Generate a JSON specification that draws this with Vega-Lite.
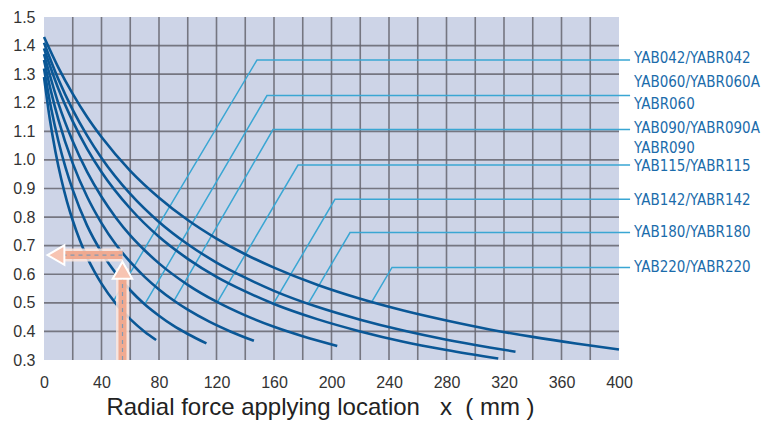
{
  "$schema": "https://vega.github.io/schema/vega-lite/v6.json",
  "width": 575,
  "height": 343,
  "autosize": {"type": "none"},
  "padding": {"left": 44, "top": 17, "right": 150, "bottom": 63},
  "config": {
    "view": {"stroke": null, "fill": "#cdd4e7"},
    "axis": {"labelFont": "Liberation Sans", "titleFont": "Liberation Sans"}
  },
  "datasets": {
    "curves": [
      {"s": "042", "x": 0, "y": 1.29}, {"s": "042", "x": 4, "y": 1.144}, {"s": "042", "x": 8, "y": 1.028}, {"s": "042", "x": 12, "y": 0.933}, {"s": "042", "x": 16, "y": 0.854}, {"s": "042", "x": 20, "y": 0.788}, {"s": "042", "x": 25, "y": 0.718}, {"s": "042", "x": 30, "y": 0.659}, {"s": "042", "x": 35, "y": 0.61}, {"s": "042", "x": 40, "y": 0.567}, {"s": "042", "x": 50, "y": 0.497}, {"s": "042", "x": 60, "y": 0.443}, {"s": "042", "x": 70, "y": 0.399}, {"s": "042", "x": 78, "y": 0.37},
      {"s": "060", "x": 0, "y": 1.32}, {"s": "060", "x": 5, "y": 1.18}, {"s": "060", "x": 10, "y": 1.066}, {"s": "060", "x": 15, "y": 0.973}, {"s": "060", "x": 20, "y": 0.895}, {"s": "060", "x": 30, "y": 0.77}, {"s": "060", "x": 40, "y": 0.677}, {"s": "060", "x": 50, "y": 0.603}, {"s": "060", "x": 60, "y": 0.544}, {"s": "060", "x": 70, "y": 0.495}, {"s": "060", "x": 80, "y": 0.455}, {"s": "060", "x": 90, "y": 0.42}, {"s": "060", "x": 100, "y": 0.391}, {"s": "060", "x": 113, "y": 0.358},
      {"s": "090", "x": 0, "y": 1.35}, {"s": "090", "x": 5, "y": 1.237}, {"s": "090", "x": 10, "y": 1.141}, {"s": "090", "x": 20, "y": 0.988}, {"s": "090", "x": 30, "y": 0.871}, {"s": "090", "x": 40, "y": 0.779}, {"s": "090", "x": 50, "y": 0.704}, {"s": "090", "x": 60, "y": 0.643}, {"s": "090", "x": 70, "y": 0.591}, {"s": "090", "x": 80, "y": 0.547}, {"s": "090", "x": 90, "y": 0.509}, {"s": "090", "x": 100, "y": 0.476}, {"s": "090", "x": 115, "y": 0.434}, {"s": "090", "x": 130, "y": 0.399}, {"s": "090", "x": 146, "y": 0.367},
      {"s": "115", "x": 0, "y": 1.37}, {"s": "115", "x": 10, "y": 1.198}, {"s": "115", "x": 20, "y": 1.065}, {"s": "115", "x": 30, "y": 0.958}, {"s": "115", "x": 40, "y": 0.871}, {"s": "115", "x": 50, "y": 0.798}, {"s": "115", "x": 60, "y": 0.736}, {"s": "115", "x": 70, "y": 0.684}, {"s": "115", "x": 80, "y": 0.638}, {"s": "115", "x": 100, "y": 0.563}, {"s": "115", "x": 120, "y": 0.504}, {"s": "115", "x": 140, "y": 0.456}, {"s": "115", "x": 160, "y": 0.416}, {"s": "115", "x": 180, "y": 0.383}, {"s": "115", "x": 204, "y": 0.349},
      {"s": "142", "x": 0, "y": 1.39}, {"s": "142", "x": 10, "y": 1.249}, {"s": "142", "x": 20, "y": 1.135}, {"s": "142", "x": 30, "y": 1.039}, {"s": "142", "x": 40, "y": 0.958}, {"s": "142", "x": 60, "y": 0.83}, {"s": "142", "x": 80, "y": 0.731}, {"s": "142", "x": 100, "y": 0.654}, {"s": "142", "x": 120, "y": 0.591}, {"s": "142", "x": 140, "y": 0.54}, {"s": "142", "x": 160, "y": 0.496}, {"s": "142", "x": 190, "y": 0.443}, {"s": "142", "x": 220, "y": 0.4}, {"s": "142", "x": 250, "y": 0.364}, {"s": "142", "x": 280, "y": 0.335}, {"s": "142", "x": 316, "y": 0.305},
      {"s": "180", "x": 0, "y": 1.41}, {"s": "180", "x": 10, "y": 1.282}, {"s": "180", "x": 20, "y": 1.175}, {"s": "180", "x": 30, "y": 1.085}, {"s": "180", "x": 40, "y": 1.007}, {"s": "180", "x": 60, "y": 0.881}, {"s": "180", "x": 80, "y": 0.783}, {"s": "180", "x": 100, "y": 0.705}, {"s": "180", "x": 120, "y": 0.641}, {"s": "180", "x": 140, "y": 0.588}, {"s": "180", "x": 160, "y": 0.542}, {"s": "180", "x": 190, "y": 0.486}, {"s": "180", "x": 220, "y": 0.441}, {"s": "180", "x": 250, "y": 0.403}, {"s": "180", "x": 280, "y": 0.371}, {"s": "180", "x": 310, "y": 0.344}, {"s": "180", "x": 328, "y": 0.329},
      {"s": "220", "x": 0, "y": 1.43}, {"s": "220", "x": 10, "y": 1.323}, {"s": "220", "x": 20, "y": 1.231}, {"s": "220", "x": 30, "y": 1.15}, {"s": "220", "x": 40, "y": 1.08}, {"s": "220", "x": 60, "y": 0.962}, {"s": "220", "x": 80, "y": 0.868}, {"s": "220", "x": 100, "y": 0.79}, {"s": "220", "x": 120, "y": 0.725}, {"s": "220", "x": 140, "y": 0.67}, {"s": "220", "x": 160, "y": 0.623}, {"s": "220", "x": 190, "y": 0.563}, {"s": "220", "x": 220, "y": 0.514}, {"s": "220", "x": 250, "y": 0.473}, {"s": "220", "x": 280, "y": 0.438}, {"s": "220", "x": 310, "y": 0.407}, {"s": "220", "x": 340, "y": 0.381}, {"s": "220", "x": 370, "y": 0.358}, {"s": "220", "x": 400, "y": 0.337}
    ],
    "leaders": [
      {"s": "042", "x": 48.5, "y": 0.508}, {"s": "042", "x": 148.2, "y": 1.35}, {"s": "042", "x": 407.7, "y": 1.35},
      {"s": "060", "x": 70.2, "y": 0.496}, {"s": "060", "x": 155.1, "y": 1.225}, {"s": "060", "x": 407.7, "y": 1.225},
      {"s": "090", "x": 90.5, "y": 0.508}, {"s": "090", "x": 159.3, "y": 1.106}, {"s": "090", "x": 407.7, "y": 1.106},
      {"s": "115", "x": 120.5, "y": 0.502}, {"s": "115", "x": 176.7, "y": 0.982}, {"s": "115", "x": 407.7, "y": 0.982},
      {"s": "142", "x": 159.6, "y": 0.497}, {"s": "142", "x": 202.4, "y": 0.862}, {"s": "142", "x": 407.7, "y": 0.862},
      {"s": "180", "x": 183.7, "y": 0.496}, {"s": "180", "x": 212.9, "y": 0.746}, {"s": "180", "x": 407.7, "y": 0.746},
      {"s": "220", "x": 228, "y": 0.503}, {"s": "220", "x": 242.1, "y": 0.624}, {"s": "220", "x": 407.7, "y": 0.624}
    ],
    "labels": [
      {"t": "YAB042/YABR042", "x": 410.5, "y": 1.355},
      {"t": "YAB060/YABR060A", "x": 410.5, "y": 1.271},
      {"t": "YABR060", "x": 410.5, "y": 1.194},
      {"t": "YAB090/YABR090A", "x": 410.5, "y": 1.11},
      {"t": "YABR090", "x": 410.5, "y": 1.042},
      {"t": "YAB115/YABR115", "x": 410.5, "y": 0.977},
      {"t": "YAB142/YABR142", "x": 410.5, "y": 0.861},
      {"t": "YAB180/YABR180", "x": 410.5, "y": 0.748},
      {"t": "YAB220/YABR220", "x": 410.5, "y": 0.624}
    ],
    "gridx": [
      {"v": 20}, {"v": 40}, {"v": 60}, {"v": 80}, {"v": 100}, {"v": 120}, {"v": 140}, {"v": 160}, {"v": 180}, {"v": 200},
      {"v": 220}, {"v": 240}, {"v": 260}, {"v": 280}, {"v": 300}, {"v": 320}, {"v": 340}, {"v": 360}, {"v": 380}
    ],
    "gridy": [
      {"v": 0.4}, {"v": 0.5}, {"v": 0.6}, {"v": 0.7}, {"v": 0.8}, {"v": 0.9}, {"v": 1.0}, {"v": 1.1}, {"v": 1.2}, {"v": 1.3}, {"v": 1.4}
    ],
    "arrows": [
      {"x": 54.6, "y": 0.3, "x2": 54.6, "y2": 0.62},
      {"x": 54.6, "y": 0.667, "x2": 9, "y2": 0.667}
    ],
    "heads": [
      {"x": 54.6, "y": 0.614, "shape": "triangle-up"},
      {"x": 8.3, "y": 0.667, "shape": "triangle-left"}
    ]
  },
  "layer": [
    {
      "data": {"name": "gridx"},
      "mark": {"type": "rule", "color": "#65656f", "strokeWidth": 1.6, "opacity": 0.85},
      "encoding": {
        "x": {"field": "v", "type": "quantitative", "scale": {"domain": [0, 400], "nice": false, "zero": false},
          "axis": {
            "values": [0, 40, 80, 120, 160, 200, 240, 280, 320, 360, 400],
            "tickCount": 30,
            "format": "d",
            "grid": false, "domain": false, "ticks": false, "labelOverlap": false, "labelFlush": false,
            "labelFontSize": 16, "labelColor": "#333333", "labelPadding": 27, "labelBaseline": "alphabetic",
            "title": "Radial force applying location\u00a0\u00a0\u00a0x\u00a0\u00a0(\u00a0mm\u00a0)",
            "titleFontSize": 24, "titleFontWeight": "normal", "titleColor": "#222222",
            "titleX": 276, "titleY": 54, "titleAlign": "center", "titleBaseline": "alphabetic"
          }}
      }
    },
    {
      "data": {"name": "gridy"},
      "mark": {"type": "rule", "color": "#65656f", "strokeWidth": 1.6, "opacity": 0.85},
      "encoding": {
        "y": {"field": "v", "type": "quantitative", "scale": {"domain": [0.3, 1.5], "nice": false, "zero": false},
          "axis": {
            "values": [0.3, 0.4, 0.5, 0.6, 0.7, 0.8, 0.9, 1.0, 1.1, 1.2, 1.3, 1.4, 1.5],
            "tickCount": 30,
            "format": ".1f",
            "grid": false, "domain": false, "ticks": false, "labelOverlap": false, "labelFlush": false,
            "labelFontSize": 16, "labelColor": "#333333", "labelPadding": 9,
            "title": null
          }}
      }
    },
    {
      "data": {"name": "leaders"},
      "mark": {"type": "line", "color": "#3aa6d3", "strokeWidth": 1.5, "clip": false},
      "encoding": {
        "x": {"field": "x", "type": "quantitative"},
        "y": {"field": "y", "type": "quantitative"},
        "detail": {"field": "s"}
      }
    },
    {
      "data": {"name": "curves"},
      "mark": {"type": "line", "color": "#0a5796", "strokeWidth": 2.6, "interpolate": "monotone"},
      "encoding": {
        "x": {"field": "x", "type": "quantitative"},
        "y": {"field": "y", "type": "quantitative"},
        "detail": {"field": "s"}
      }
    },
    {
      "data": {"name": "arrows"},
      "mark": {"type": "rule", "color": "#fbe6de", "strokeWidth": 13, "opacity": 0.85},
      "encoding": {
        "x": {"field": "x", "type": "quantitative"},
        "y": {"field": "y", "type": "quantitative"},
        "x2": {"field": "x2"},
        "y2": {"field": "y2"}
      }
    },
    {
      "data": {"name": "arrows"},
      "mark": {"type": "rule", "color": "#efa68c", "strokeWidth": 8, "opacity": 0.95},
      "encoding": {
        "x": {"field": "x", "type": "quantitative"},
        "y": {"field": "y", "type": "quantitative"},
        "x2": {"field": "x2"},
        "y2": {"field": "y2"}
      }
    },
    {
      "data": {"name": "arrows"},
      "mark": {"type": "rule", "color": "#3a8fc8", "strokeWidth": 1.2, "strokeDash": [4, 4], "opacity": 0.6},
      "encoding": {
        "x": {"field": "x", "type": "quantitative"},
        "y": {"field": "y", "type": "quantitative"},
        "x2": {"field": "x2"},
        "y2": {"field": "y2"}
      }
    },
    {
      "data": {"name": "heads"},
      "mark": {"type": "point", "filled": true, "fill": "#f7c4b2", "stroke": "#ffffff", "strokeWidth": 2, "size": 380, "opacity": 1},
      "encoding": {
        "x": {"field": "x", "type": "quantitative"},
        "y": {"field": "y", "type": "quantitative"},
        "shape": {"field": "shape", "type": "nominal", "scale": null, "legend": null}
      }
    },
    {
      "data": {"name": "labels"},
      "mark": {"type": "text", "align": "left", "baseline": "middle", "font": "DejaVu Sans Condensed", "fontSize": 15, "color": "#1b6cab", "clip": false},
      "encoding": {
        "x": {"field": "x", "type": "quantitative"},
        "y": {"field": "y", "type": "quantitative"},
        "text": {"field": "t"}
      }
    }
  ]
}
